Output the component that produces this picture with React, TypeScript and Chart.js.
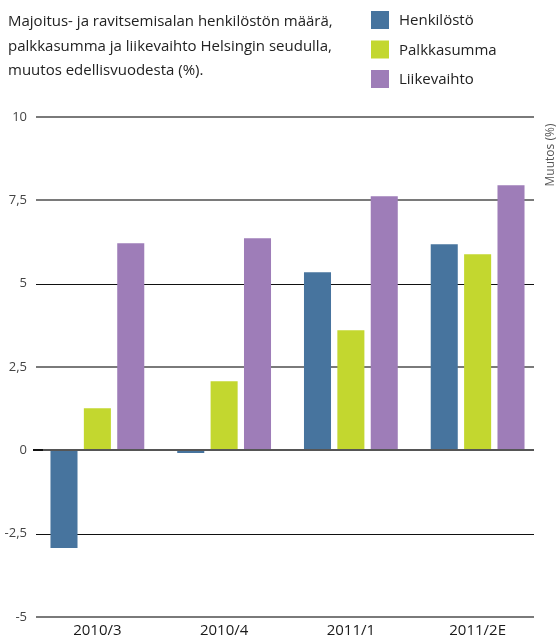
import React, { useEffect, useRef } from "react";
import { Chart, registerables } from "chart.js";

Chart.register(...registerables);

const categories = ["2010/3", "2010/4", "2011/1", "2011/2E"];
const henkilosto = [-2.93, -0.08, 5.34, 6.18];
const palkkasumma = [1.26, 2.07, 3.6, 5.88];
const liikevaihto = [6.21, 6.36, 7.62, 7.95];
const seriesNames = ["Henkilöstö", "Palkkasumma", "Liikevaihto"];
const titleLines = [
  "Majoitus- ja ravitsemisalan henkilöstön määrä,",
  "palkkasumma ja liikevaihto Helsingin seudulla,",
  "muutos edellisvuodesta (%).",
];
const yTicks = [-5, -2.5, 0, 2.5, 5, 7.5, 10];
const axisTitle = "Muutos (%)";

const COLORS = ["#47749e", "#c3d72f", "#9e7db8"];
const FONT = "'Open Sans', 'DejaVu Sans', sans-serif";

function gridStyle(v: number) {
  if (v === 0) return { color: "#555555", width: 2 };
  if (v === 5 || v === -2.5) return { color: "#111111", width: 1 };
  return { color: "#7a7a7a", width: 2 };
}

const decorPlugin = {
  id: "decor",
  beforeDatasetsDraw(chart: any) {
    const ctx = chart.ctx;
    const y = chart.scales.y;
    ctx.save();
    for (const v of yTicks) {
      if (v === 0) continue;
      const s = gridStyle(v);
      const py = Math.round(y.getPixelForValue(v)) + (s.width === 1 ? 0.5 : 0);
      ctx.strokeStyle = s.color;
      ctx.lineWidth = s.width;
      ctx.beginPath();
      ctx.moveTo(36, py);
      ctx.lineTo(534, py);
      ctx.stroke();
    }
    ctx.restore();
  },
  afterDatasetsDraw(chart: any) {
    const ctx = chart.ctx;
    const y = chart.scales.y;
    ctx.save();
    const s = gridStyle(0);
    const py = Math.round(y.getPixelForValue(0));
    ctx.strokeStyle = s.color;
    ctx.lineWidth = s.width;
    ctx.beginPath();
    ctx.moveTo(36, py);
    ctx.lineTo(534, py);
    ctx.stroke();
    ctx.strokeStyle = "#111";
    ctx.beginPath();
    ctx.moveTo(33, py);
    ctx.lineTo(43, py);
    ctx.stroke();

    // title
    ctx.fillStyle = "#222";
    ctx.font = `15px ${FONT}`;
    ctx.textAlign = "left";
    ctx.textBaseline = "middle";
    titleLines.forEach((t, i) => ctx.fillText(t, 8, 22 + i * 24.5));

    // legend
    chart.data.datasets.forEach((ds: any, i: number) => {
      const cy = 20 + i * 29.5;
      ctx.fillStyle = ds.backgroundColor;
      ctx.fillRect(371, cy - 9, 18, 18);
      ctx.fillStyle = "#222";
      ctx.font = `15px ${FONT}`;
      ctx.fillText(ds.label, 399, cy + 1);
    });

    // right axis title
    ctx.save();
    ctx.translate(551, 155);
    ctx.rotate(-Math.PI / 2);
    ctx.textAlign = "center";
    ctx.textBaseline = "middle";
    ctx.fillStyle = "#555";
    ctx.font = `12px ${FONT}`;
    ctx.fillText(axisTitle, 0, 0);
    ctx.restore();
    ctx.restore();
  },
};

export default function App() {
  const ref = useRef<HTMLCanvasElement | null>(null);
  useEffect(() => {
    if (!ref.current) return;
    const chart = new Chart(ref.current, {
      type: "bar",
      data: {
        labels: categories,
        datasets: [
          { label: seriesNames[0], data: henkilosto, backgroundColor: COLORS[0] },
          { label: seriesNames[1], data: palkkasumma, backgroundColor: COLORS[1] },
          { label: seriesNames[2], data: liikevaihto, backgroundColor: COLORS[2] },
        ],
      },
      options: {
        animation: false,
        responsive: false,
        maintainAspectRatio: false,
        devicePixelRatio: 1,
        layout: { padding: { top: 117, right: 19, left: 0, bottom: 0 } },
        datasets: { bar: { categoryPercentage: 0.79, barPercentage: 0.81 } },
        plugins: { legend: { display: false }, title: { display: false }, tooltip: { enabled: false } },
        scales: {
          x: {
            grid: { display: false, drawTicks: false },
            border: { display: false },
            ticks: { color: "#1a1a1a", font: { family: FONT, size: 15 }, padding: 5, maxRotation: 0 },
            afterFit: (s: any) => { s.height = 25; },
          },
          y: {
            min: -5,
            max: 10,
            grid: { display: false, drawTicks: false },
            border: { display: false },
            afterBuildTicks: (s: any) => { s.ticks = yTicks.map((v) => ({ value: v })); },
            ticks: {
              color: "#444",
              font: { family: FONT, size: 13 },
              padding: 7,
              callback: (v: any) => String(v).replace(".", ","),
            },
            afterFit: (s: any) => { s.width = 34; },
          },
        },
      },
      plugins: [decorPlugin],
    });
    return () => chart.destroy();
  }, []);
  return (
    <div style={{ position: "fixed", left: 0, top: 0, width: 560, height: 642, background: "#fff" }}>
      <canvas ref={ref} width={560} height={642} style={{ width: 560, height: 642, display: "block" }} />
    </div>
  );
}
